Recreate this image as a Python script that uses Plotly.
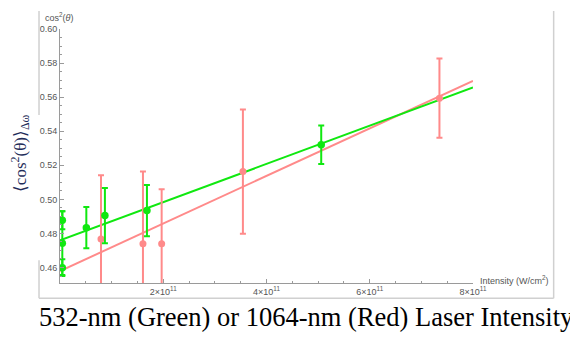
import plotly.graph_objects as go

# ---- data ----
green_x = [4.5e9, 4.5e9, 4.5e9, 5.1e10, 8.7e10, 1.684e11, 5.06e11]
green_y = [0.4877, 0.4743, 0.4599, 0.4834, 0.4905, 0.4934, 0.5320]
green_err = [0.0053, 0.0187, 0.0049, 0.0121, 0.0162, 0.0151, 0.0113]

red_x = [7.94e10, 1.607e11, 1.969e11, 3.543e11, 7.35e11]
red_y = [0.4767, 0.4740, 0.4740, 0.5163, 0.5594]
red_err = [0.0375, 0.0423, 0.0320, 0.0365, 0.0233]

fit_x = [0, 8e11]
green_fit_y = [0.4759, 0.5657]
red_fit_y = [0.4579, 0.5696]

x_tickvals = [2e11, 4e11, 6e11, 8e11]
x_ticktext = ["2×10<sup>11</sup>", "4×10<sup>11</sup>", "6×10<sup>11</sup>", "8×10<sup>11</sup>"]
y_tickvals = [0.46, 0.48, 0.50, 0.52, 0.54, 0.56, 0.58, 0.60]
y_ticktext = ["0.46", "0.48", "0.50", "0.52", "0.54", "0.56", "0.58", "0.60"]

GREEN = "#10e810"
RED = "#ff8a8a"
GREY = "#9a9a9a"
LABEL = "#555555"

fig = go.Figure()

fig.add_trace(go.Scatter(x=fit_x, y=red_fit_y, mode="lines",
                         line=dict(color=RED, width=2), hoverinfo="skip"))
fig.add_trace(go.Scatter(x=fit_x, y=green_fit_y, mode="lines",
                         line=dict(color=GREEN, width=2), hoverinfo="skip"))
fig.add_trace(go.Scatter(x=red_x, y=red_y, mode="markers",
                         marker=dict(color=RED, size=7),
                         error_y=dict(type="data", array=red_err, color=RED,
                                      thickness=2, width=3)))
fig.add_trace(go.Scatter(x=green_x, y=green_y, mode="markers",
                         marker=dict(color=GREEN, size=7.5),
                         error_y=dict(type="data", array=green_err, color=GREEN,
                                      thickness=2, width=3)))

# page body has an 8px default margin, so the figure is sized/offset to compensate
fig.update_layout(
    width=570, height=329,
    margin=dict(l=52, r=105, t=21, b=54, autoexpand=False),
    paper_bgcolor="white", plot_bgcolor="white",
    showlegend=False,
    font=dict(family="Liberation Sans, Arial, sans-serif", size=9, color=LABEL),
    xaxis=dict(range=[0, 8e11], showgrid=False, zeroline=False, automargin=False,
               showline=True, linecolor=GREY, linewidth=1,
               ticks="inside", ticklen=4, tickcolor=GREY,
               tickvals=x_tickvals, ticktext=x_ticktext,
               minor=dict(ticks="inside", ticklen=2, tickcolor=GREY, dtick=5e10),
               tickfont=dict(size=9, color=LABEL)),
    yaxis=dict(range=[0.4509, 0.60], showgrid=False, zeroline=False, automargin=False,
               showline=True, linecolor=GREY, linewidth=1,
               ticks="inside", ticklen=4, tickcolor=GREY,
               tickvals=y_tickvals, ticktext=y_ticktext,
               minor=dict(ticks="inside", ticklen=2, tickcolor=GREY, dtick=0.005),
               tickfont=dict(size=9, color=LABEL)),
)

# Frame around the graphic (left with a gap behind the rotated label, right, bottom)
frame = dict(type="line", xref="paper", yref="paper",
             line=dict(color="#d0d0d0", width=1.5))
fig.add_shape(**frame, x0=-0.0508, x1=-0.0508, y0=0.661, y1=1.071)
fig.add_shape(**frame, x0=-0.0508, x1=-0.0508, y0=-0.0603, y1=0.0895)
fig.add_shape(**frame, x0=1.1953, x1=1.1953, y0=-0.0603, y1=1.071)
fig.add_shape(**frame, x0=-0.0508, x1=1.1953, y0=-0.0603, y1=-0.0603)

# Axis labels
fig.add_annotation(text="cos<sup>2</sup>(<i>θ</i>)", xref="paper", yref="paper",
                   x=-0.041, y=1.0, xanchor="left", yanchor="bottom", yshift=4,
                   showarrow=False, font=dict(size=9, color=LABEL))
fig.add_annotation(text="Intensity (W/cm<sup>2</sup>)", xref="paper", yref="paper",
                   x=1.011, y=0.01, xanchor="left", yanchor="middle",
                   showarrow=False, font=dict(size=9, color=LABEL))
fig.add_annotation(text="⟨cos<sup>2</sup>(θ)⟩<sub>Δω</sub>", xref="paper", yref="paper",
                   x=-0.097, y=0.511, textangle=-90, xanchor="center", yanchor="middle",
                   showarrow=False,
                   font=dict(family="Liberation Serif, Times New Roman, serif", size=17, color="#1f2d5a"))
fig.add_annotation(text="532-nm (Green) or 1064-nm (Red) Laser Intensity",
                   xref="paper", yref="paper", x=0.598, y=-0.135,
                   xanchor="center", yanchor="middle", showarrow=False,
                   font=dict(family="Liberation Serif, Times New Roman, serif", size=26.5, color="black"))

fig.write_html("out.html")
